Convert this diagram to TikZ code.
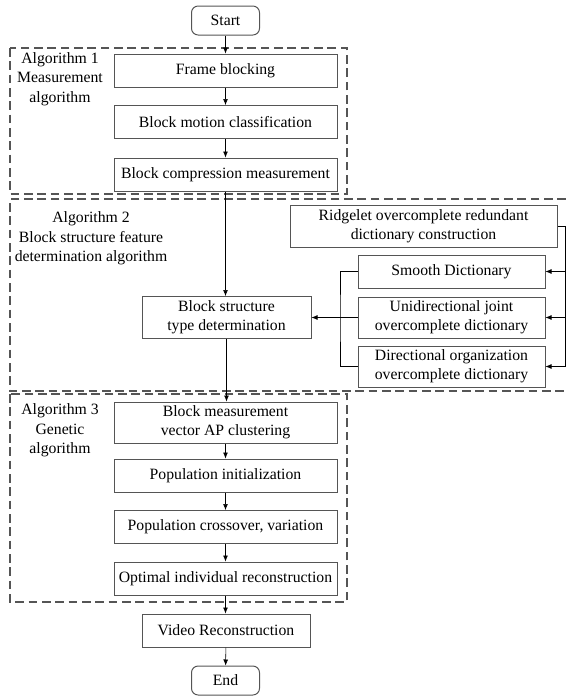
\documentclass[tikz,border=0pt]{standalone}
\usepackage{fontspec}
\setmainfont{Liberation Serif}
\usetikzlibrary{arrows.meta}
\definecolor{linegray}{RGB}{85,85,85}
\begin{document}
\begin{tikzpicture}[x=0.75pt,y=-0.75pt,>={Latex[length=4.5pt,width=3.6pt]},
  every node/.style={font=\fontsize{11.8}{14.5}\selectfont,align=center,inner sep=0pt},
  box/.style={draw=linegray,line width=0.75pt,minimum width=167.25pt,minimum height=24.75pt},
  tallbox/.style={box,minimum height=30.75pt},
  endbox/.style={box,rounded corners=5pt,minimum width=51pt,minimum height=21.75pt},
  dictbox/.style={box,minimum width=140.25pt},
  groupline/.style={draw=linegray,line width=1.1pt,dash pattern=on 6.5pt off 3.5pt}]
\useasboundingbox (0,0) rectangle (566,696);
\draw[groupline](10,48) rectangle (347,194);
\draw[groupline](566,199)--(10,199)--(10,391)--(566,391);
\draw[groupline](10,394) rectangle (347,602);
\node (start) [endbox] at (225.5,20.5) {Start};
\node (frame) [box] at (225.5,70.5) {Frame blocking};
\node (motion) [box] at (225.5,122) {Block motion classification};
\node (comp) [box] at (225.5,174.5) {Block compression measurement};
\node (alg1) at (60,79) {Algorithm 1\\Measurement\\algorithm};
\node (alg2) at (91,238.5) {Algorithm 2\\Block structure feature\\determination algorithm};
\node (ridge) [box,minimum width=200.25pt,minimum height=31.5pt] at (423.5,226) {Ridgelet overcomplete redundant\\dictionary construction};
\node (smooth) [dictbox] at (451.5,271.5) {Smooth Dictionary};
\node (uni) [dictbox,minimum height=30.75pt] at (451.5,317.5) {Unidirectional joint\\overcomplete dictionary};
\node (dir) [dictbox,minimum height=30.75pt] at (451.5,366.5) {Directional organization\\overcomplete dictionary};
\node (bst) [box,minimum width=126.75pt,minimum height=31.5pt] at (226.5,317.5) {Block structure\\type determination};
\node (alg3) at (60,430.5) {Algorithm 3\\Genetic\\algorithm};
\node (bmv) [tallbox] at (225.5,422.5) {Block measurement\\vector AP clustering};
\node (init) [box] at (225.5,475.5) {Population initialization};
\node (cross) [box] at (225.5,527) {Population crossover, variation};
\node (opt) [box] at (225.5,578.5) {Optimal individual reconstruction};
\node (video) [box,minimum width=126pt] at (226,630.5) {Video Reconstruction};
\node (end) [endbox] at (225.5,680.5) {End};
\coordinate (rbus) at (565,226);
\coordinate (lbus) at (340,317.5);
\draw[->](start)--(frame); \draw[->](frame)--(motion); \draw[->](motion)--(comp);
\draw[->](comp.south)--(comp.south|-bst.north);
\draw[->](bst.south)--(bst.south|-bmv.north);
\draw[->](bmv)--(init); \draw[->](init)--(cross); \draw[->](cross)--(opt);
\draw[->](opt.south)--(opt.south|-video.north); \draw[->](video)--(end);
\draw(ridge.east)--(rbus)--(rbus|-dir.east);
\draw[->](rbus|-smooth.east)--(smooth.east);
\draw[->](rbus|-uni.east)--(uni.east);
\draw[->](rbus|-dir.east)--(dir.east);
\draw(smooth.west)-|(lbus)|-(dir.west);
\draw[->](uni.west)--(bst.east);
\end{tikzpicture}
\end{document}
